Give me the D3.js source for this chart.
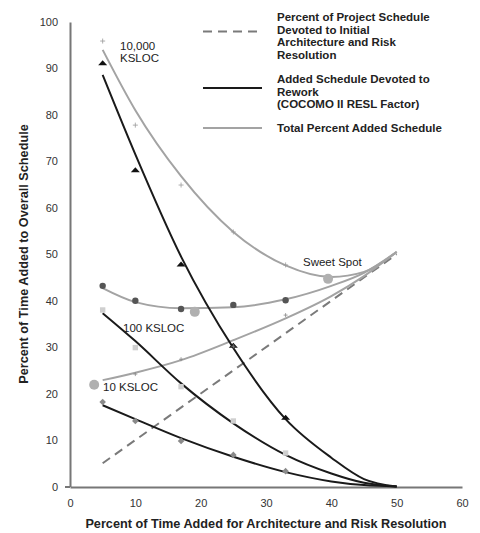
<!DOCTYPE html>
<html><head><meta charset="utf-8">
<script src="https://cdn.jsdelivr.net/npm/d3@7"></script>
<style>body{margin:0;background:#fff}svg{display:block}text{font-family:"Liberation Sans",Arial,sans-serif}</style>
</head><body><svg id="c" width="480" height="533"></svg>
<script>
// ---- data ----
const xTicks = [0, 10, 20, 30, 40, 50, 60];
const yTicks = [0, 10, 20, 30, 40, 50, 60, 70, 80, 90, 100];
const curveX = [5, 10, 17, 25, 33, 40, 45, 50];
const rework10000 = [88.6, 71.5, 49.5, 29.8, 14.5, 6.2, 1.6, 0];
const rework100   = [37.3, 31.3, 22.2, 13.6, 6.8, 2.8, 0.8, 0];
const rework10    = [17.5, 14.5, 10.4, 6.4, 3.1, 1.1, 0.3, 0];
const total10000  = [94.0, 81.0, 66.8, 54.8, 47.6, 45.1, 46.2, 50.5];
const total100    = [42.7, 39.7, 38.4, 38.6, 40.3, 43.2, 46.0, 50.5];
const total10     = [22.9, 24.5, 27.2, 31.5, 36.2, 41.0, 45.3, 50.5];
const archX = [5, 50];
const archY = [5, 50];
const markX = [5, 10, 17, 25, 33];
const tri10000  = [91.0, 68.0, 47.7, 30.2, 14.7];
const plus10000 = [95.9, 77.8, 64.9, 54.8, 47.7];
const circ100   = [43.2, 40.0, 38.2, 39.1, 40.1];
const sq100     = [38.0, 29.9, 21.5, 14.1, 7.2];
const dia10     = [18.2, 14.1, 9.8, 6.8, 3.3];
const plus10X   = [10, 17, 25, 33];
const plus10    = [24.2, 27.4, 30.2, 36.9];
const sweetX = [3.7, 19.1, 39.5];
const sweetY = [21.9, 37.6, 44.7];
const legendItems = [
  {lines: ["Percent of Project Schedule", "Devoted to Initial", "Architecture and Risk", "Resolution"], type: "dash"},
  {lines: ["Added Schedule Devoted to", "Rework", "(COCOMO II RESL Factor)"], type: "black"},
  {lines: ["Total Percent Added Schedule"], type: "gray"}
];

// ---- chart ----
const svg = d3.select("#c");
const x = d3.scaleLinear().domain([0, 60]).range([70, 462]);
const y = d3.scaleLinear().domain([0, 100]).range([486.5, 22]);

const BLACK = "#1a1a1a", GRAY = "#a3a3a3", DASH = "#7a7a7a";

// axes
const xAxis = svg.append("g").attr("transform", "translate(0,487)")
  .call(d3.axisBottom(x).tickValues(xTicks).tickSize(0).tickPadding(12));
xAxis.select(".domain").attr("stroke", "#777").attr("stroke-width", 2);
xAxis.selectAll("text").attr("font-size", 11).attr("fill", "#333");
const yAxis = svg.append("g").attr("transform", "translate(70,0)")
  .call(d3.axisLeft(y).tickValues(yTicks).tickSize(0).tickPadding(12));
yAxis.select(".domain").attr("stroke", "#777").attr("stroke-width", 2);
yAxis.selectAll("text").attr("font-size", 11).attr("fill", "#333");
svg.append("line").attr("x1", 65).attr("x2", 70).attr("y1", 487).attr("y2", 487)
  .attr("stroke", "#777").attr("stroke-width", 2);

// axis titles
svg.append("text").attr("x", 266).attr("y", 528).attr("text-anchor", "middle")
  .attr("font-size", 12.7).attr("font-weight", "bold").attr("fill", "#222")
  .text("Percent of Time Added for Architecture and Risk Resolution");
svg.append("text").attr("transform", "translate(28,254) rotate(-90)").attr("text-anchor", "middle")
  .attr("font-size", 12.7).attr("font-weight", "bold").attr("fill", "#222")
  .text("Percent of Time Added to Overall Schedule");

// lines
const line = d3.line().x(d => x(d[0])).y(d => y(d[1])).curve(d3.curveMonotoneX);
function drawCurve(ys, color) {
  svg.append("path").datum(curveX.map((v, i) => [v, ys[i]]))
    .attr("d", line).attr("fill", "none").attr("stroke", color).attr("stroke-width", 2);
}
svg.append("path").datum(archX.map((v, i) => [v, archY[i]]))
  .attr("d", d3.line().x(d => x(d[0])).y(d => y(d[1])))
  .attr("fill", "none").attr("stroke", DASH).attr("stroke-width", 2).attr("stroke-dasharray", "9,6");
drawCurve(total10, GRAY);
drawCurve(total100, GRAY);
drawCurve(total10000, GRAY);
drawCurve(rework10, BLACK);
drawCurve(rework100, BLACK);
drawCurve(rework10000, BLACK);

// markers
svg.selectAll(".tri").data(markX).enter().append("path")
  .attr("transform", (d, i) => `translate(${x(d)},${y(tri10000[i]) - 1})`)
  .attr("d", "M-4.5,2.5 L0,-2.5 L4.5,2.5 Z").attr("fill", "#111");
svg.selectAll(".plus").data(markX).enter().append("path")
  .attr("transform", (d, i) => `translate(${x(d)},${y(plus10000[i])})`)
  .attr("d", "M-2.5,0 H2.5 M0,-2.5 V2.5").attr("stroke", "#999").attr("stroke-width", 0.8);
svg.selectAll(".plus10").data(plus10X).enter().append("path")
  .attr("transform", (d, i) => `translate(${x(d)},${y(plus10[i])})`)
  .attr("d", "M-2,0 H2 M0,-2 V2").attr("stroke", "#888").attr("stroke-width", 0.8);
svg.selectAll(".circ").data(markX).enter().append("circle")
  .attr("cx", d => x(d)).attr("cy", (d, i) => y(circ100[i])).attr("r", 3.2).attr("fill", "#555");
svg.selectAll(".sq").data(markX).enter().append("rect")
  .attr("x", d => x(d) - 2.7).attr("y", (d, i) => y(sq100[i]) - 2.7)
  .attr("width", 5.4).attr("height", 5.4).attr("fill", "#cfcfcf");
svg.selectAll(".dia").data(markX).enter().append("path")
  .attr("transform", (d, i) => `translate(${x(d)},${y(dia10[i])})`)
  .attr("d", "M0,-3.3 L3.3,0 L0,3.3 L-3.3,0 Z").attr("fill", "#8a8a8a");
svg.selectAll(".sweet").data(sweetX).enter().append("circle")
  .attr("cx", d => x(d)).attr("cy", (d, i) => y(sweetY[i])).attr("r", 5).attr("fill", "#b0b0b0");

// annotations
const ann = (tx, ty, s) => svg.append("text").attr("x", tx).attr("y", ty)
  .attr("font-size", 11.5).attr("fill", "#222").text(s);
ann(120, 50, "10,000");
ann(120, 62, "KSLOC");
ann(303, 266, "Sweet Spot");
ann(123, 332, "100 KSLOC");
ann(103, 391, "10 KSLOC");

// legend
const legY = [21, 83, 132];
legendItems.forEach((it, i) => {
  const ly = it.type === "gray" ? 128 : (it.type === "black" ? 88 : 31.5);
  svg.append("line").attr("x1", 203).attr("x2", 262).attr("y1", ly).attr("y2", ly)
    .attr("stroke", it.type === "dash" ? DASH : (it.type === "black" ? BLACK : GRAY))
    .attr("stroke-width", 2).attr("stroke-dasharray", it.type === "dash" ? "9,6" : null);
  it.lines.forEach((s, j) => {
    svg.append("text").attr("x", 277).attr("y", legY[i] + j * 12.6)
      .attr("font-size", 11.5).attr("font-weight", "bold").attr("fill", "#222").text(s);
  });
});
</script></body></html>
